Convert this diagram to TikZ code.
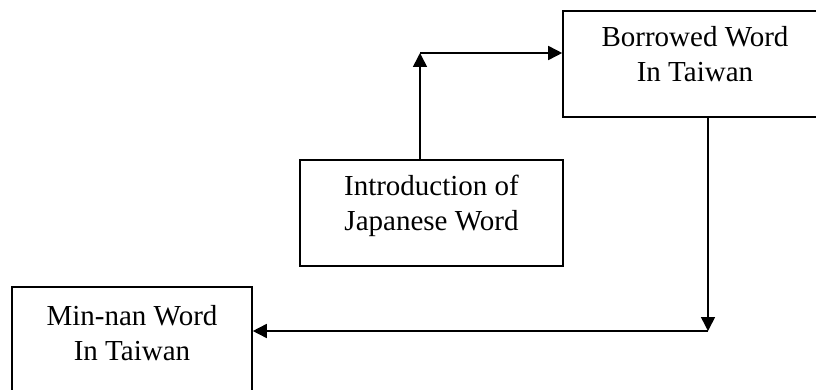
\documentclass[tikz,border=0pt]{standalone}
\usepackage{fontspec}
\setmainfont{Liberation Serif}
\usetikzlibrary{positioning,arrows.meta}

\tikzset{
	wordbox/.style={draw, line width=1.6pt, minimum height=106pt, inner sep=0pt},
	boxtext/.style={align=center, inner sep=0pt, font=\fontsize{29}{35}\selectfont},
	flow/.style={line width=1.6pt, -{Triangle[length=14pt,width=14pt]}}}

\begin{document}
\begin{tikzpicture}[x=1pt,y=1pt,yscale=-1,xscale=1]
	\path[use as bounding box] (0,0) rectangle (816,390);

	%Shape: Rectangle [borrowed]
	\node[wordbox, minimum width=264pt] (borrowed) at (695,64) {};
	%Shape: Rectangle [intro]
	\node[wordbox, minimum width=263pt] (intro) at (431.5,213) {};
	%Shape: Rectangle [minnan]
	\node[wordbox, minimum width=240pt] (minnan) at (132,340) {};

	% Text Node
	\node[boxtext, below=16pt of borrowed.north] (borrowedtext) {Borrowed Word\\In Taiwan};
	% Text Node
	\node[boxtext, below=16pt of intro.north] (introtext) {Introduction of\\Japanese Word};
	% Text Node
	\node[boxtext, below=19pt of minnan.north] (minnantext) {Min-nan Word\\In Taiwan};

	%Arrows
	\coordinate (upturn) at (420,53);
	\coordinate (downturn) at (708,331);
	\draw[flow] (upturn |- intro.north) -- (upturn);
	\draw[flow] (upturn) -- (upturn -| borrowed.west);
	\draw[flow] (downturn |- borrowed.south) -- (downturn);
	\draw[flow] (downturn) -- (downturn -| minnan.east);

\end{tikzpicture}
\end{document}
